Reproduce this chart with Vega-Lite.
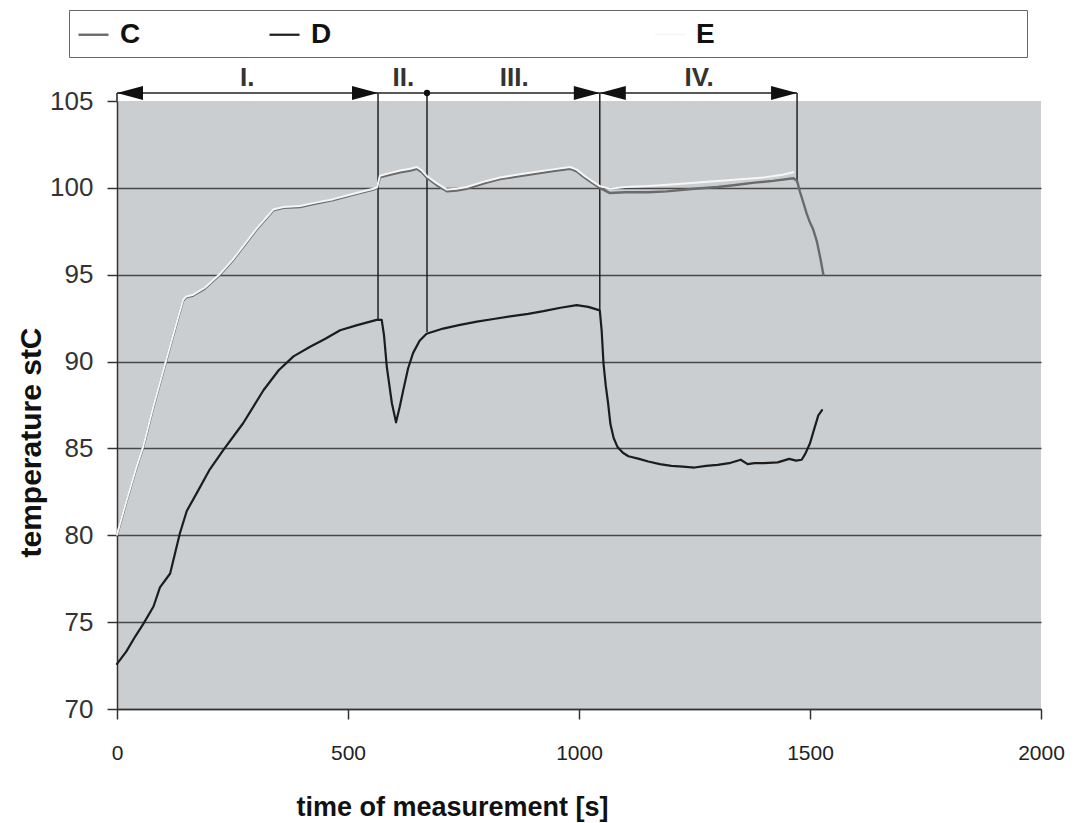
{
  "$schema": "https://vega.github.io/schema/vega-lite/v6.json",
  "width": 924,
  "height": 608,
  "autosize": {"type": "none"},
  "padding": {"left": 117, "top": 101, "right": 37, "bottom": 114},
  "background": "white",
  "datasets": {
    "series": [
      {"probe": "D", "t": 0, "temp": 72.6}, {"probe": "D", "t": 20, "temp": 73.3}, {"probe": "D", "t": 40, "temp": 74.2},
      {"probe": "D", "t": 57, "temp": 74.9}, {"probe": "D", "t": 79, "temp": 75.9}, {"probe": "D", "t": 93, "temp": 77.0},
      {"probe": "D", "t": 115, "temp": 77.8}, {"probe": "D", "t": 136, "temp": 80.1}, {"probe": "D", "t": 151, "temp": 81.4},
      {"probe": "D", "t": 172, "temp": 82.4}, {"probe": "D", "t": 201, "temp": 83.8}, {"probe": "D", "t": 230, "temp": 84.9},
      {"probe": "D", "t": 273, "temp": 86.45}, {"probe": "D", "t": 317, "temp": 88.35}, {"probe": "D", "t": 350, "temp": 89.5},
      {"probe": "D", "t": 382, "temp": 90.3}, {"probe": "D", "t": 418, "temp": 90.85}, {"probe": "D", "t": 450, "temp": 91.3},
      {"probe": "D", "t": 483, "temp": 91.8}, {"probe": "D", "t": 520, "temp": 92.1}, {"probe": "D", "t": 562, "temp": 92.4},
      {"probe": "D", "t": 573, "temp": 92.4}, {"probe": "D", "t": 578, "temp": 91.5}, {"probe": "D", "t": 584, "temp": 89.7},
      {"probe": "D", "t": 595, "temp": 87.6}, {"probe": "D", "t": 604, "temp": 86.5}, {"probe": "D", "t": 612, "temp": 87.4},
      {"probe": "D", "t": 620, "temp": 88.4}, {"probe": "D", "t": 630, "temp": 89.6}, {"probe": "D", "t": 641, "temp": 90.5},
      {"probe": "D", "t": 655, "temp": 91.2}, {"probe": "D", "t": 670, "temp": 91.6}, {"probe": "D", "t": 706, "temp": 91.9},
      {"probe": "D", "t": 740, "temp": 92.1}, {"probe": "D", "t": 779, "temp": 92.3}, {"probe": "D", "t": 815, "temp": 92.45},
      {"probe": "D", "t": 851, "temp": 92.6}, {"probe": "D", "t": 890, "temp": 92.75}, {"probe": "D", "t": 923, "temp": 92.9},
      {"probe": "D", "t": 960, "temp": 93.1}, {"probe": "D", "t": 995, "temp": 93.25}, {"probe": "D", "t": 1020, "temp": 93.15},
      {"probe": "D", "t": 1045, "temp": 92.95}, {"probe": "D", "t": 1049, "temp": 91.8}, {"probe": "D", "t": 1053, "temp": 89.9},
      {"probe": "D", "t": 1058, "temp": 88.6}, {"probe": "D", "t": 1063, "temp": 87.6}, {"probe": "D", "t": 1068, "temp": 86.4},
      {"probe": "D", "t": 1075, "temp": 85.6}, {"probe": "D", "t": 1083, "temp": 85.1}, {"probe": "D", "t": 1095, "temp": 84.75},
      {"probe": "D", "t": 1107, "temp": 84.55}, {"probe": "D", "t": 1130, "temp": 84.4}, {"probe": "D", "t": 1150, "temp": 84.25},
      {"probe": "D", "t": 1175, "temp": 84.1}, {"probe": "D", "t": 1200, "temp": 84.0}, {"probe": "D", "t": 1225, "temp": 83.95},
      {"probe": "D", "t": 1250, "temp": 83.9}, {"probe": "D", "t": 1275, "temp": 84.0}, {"probe": "D", "t": 1300, "temp": 84.05},
      {"probe": "D", "t": 1325, "temp": 84.15}, {"probe": "D", "t": 1350, "temp": 84.35}, {"probe": "D", "t": 1365, "temp": 84.1},
      {"probe": "D", "t": 1380, "temp": 84.15}, {"probe": "D", "t": 1400, "temp": 84.15}, {"probe": "D", "t": 1430, "temp": 84.2},
      {"probe": "D", "t": 1455, "temp": 84.4}, {"probe": "D", "t": 1470, "temp": 84.3}, {"probe": "D", "t": 1482, "temp": 84.35},
      {"probe": "D", "t": 1490, "temp": 84.7}, {"probe": "D", "t": 1500, "temp": 85.3}, {"probe": "D", "t": 1510, "temp": 86.2},
      {"probe": "D", "t": 1518, "temp": 86.9}, {"probe": "D", "t": 1526, "temp": 87.2},

      {"probe": "C", "t": 0, "temp": 80.0}, {"probe": "C", "t": 20, "temp": 81.9}, {"probe": "C", "t": 40, "temp": 83.7},
      {"probe": "C", "t": 57, "temp": 85.1}, {"probe": "C", "t": 79, "temp": 87.4}, {"probe": "C", "t": 107, "temp": 90.1},
      {"probe": "C", "t": 130, "temp": 92.3}, {"probe": "C", "t": 143, "temp": 93.5}, {"probe": "C", "t": 150, "temp": 93.7},
      {"probe": "C", "t": 165, "temp": 93.8}, {"probe": "C", "t": 190, "temp": 94.2}, {"probe": "C", "t": 223, "temp": 95.0},
      {"probe": "C", "t": 250, "temp": 95.8}, {"probe": "C", "t": 273, "temp": 96.6}, {"probe": "C", "t": 302, "temp": 97.6},
      {"probe": "C", "t": 325, "temp": 98.3}, {"probe": "C", "t": 338, "temp": 98.7}, {"probe": "C", "t": 360, "temp": 98.85},
      {"probe": "C", "t": 396, "temp": 98.9}, {"probe": "C", "t": 430, "temp": 99.1}, {"probe": "C", "t": 468, "temp": 99.3},
      {"probe": "C", "t": 510, "temp": 99.6}, {"probe": "C", "t": 555, "temp": 99.9}, {"probe": "C", "t": 563, "temp": 100.0},
      {"probe": "C", "t": 569, "temp": 100.6}, {"probe": "C", "t": 590, "temp": 100.75}, {"probe": "C", "t": 613, "temp": 100.9},
      {"probe": "C", "t": 635, "temp": 101.0}, {"probe": "C", "t": 649, "temp": 101.1}, {"probe": "C", "t": 660, "temp": 100.9},
      {"probe": "C", "t": 670, "temp": 100.6}, {"probe": "C", "t": 690, "temp": 100.2}, {"probe": "C", "t": 714, "temp": 99.8},
      {"probe": "C", "t": 735, "temp": 99.85}, {"probe": "C", "t": 757, "temp": 99.95}, {"probe": "C", "t": 800, "temp": 100.3},
      {"probe": "C", "t": 829, "temp": 100.5}, {"probe": "C", "t": 865, "temp": 100.65}, {"probe": "C", "t": 901, "temp": 100.8},
      {"probe": "C", "t": 940, "temp": 100.95}, {"probe": "C", "t": 981, "temp": 101.1}, {"probe": "C", "t": 995, "temp": 100.95},
      {"probe": "C", "t": 1009, "temp": 100.65}, {"probe": "C", "t": 1025, "temp": 100.35}, {"probe": "C", "t": 1045, "temp": 100.0},
      {"probe": "C", "t": 1067, "temp": 99.7}, {"probe": "C", "t": 1100, "temp": 99.75}, {"probe": "C", "t": 1150, "temp": 99.75},
      {"probe": "C", "t": 1190, "temp": 99.8}, {"probe": "C", "t": 1250, "temp": 99.95}, {"probe": "C", "t": 1300, "temp": 100.05},
      {"probe": "C", "t": 1334, "temp": 100.15}, {"probe": "C", "t": 1380, "temp": 100.3}, {"probe": "C", "t": 1420, "temp": 100.4},
      {"probe": "C", "t": 1464, "temp": 100.55}, {"probe": "C", "t": 1472, "temp": 100.4}, {"probe": "C", "t": 1478, "temp": 99.8},
      {"probe": "C", "t": 1485, "temp": 99.2}, {"probe": "C", "t": 1493, "temp": 98.5}, {"probe": "C", "t": 1500, "temp": 98.0},
      {"probe": "C", "t": 1507, "temp": 97.6}, {"probe": "C", "t": 1515, "temp": 96.9}, {"probe": "C", "t": 1522, "temp": 96.0},
      {"probe": "C", "t": 1529, "temp": 95.0},

      {"probe": "E", "t": 0, "temp": 80.05}, {"probe": "E", "t": 20, "temp": 81.95}, {"probe": "E", "t": 40, "temp": 83.75},
      {"probe": "E", "t": 57, "temp": 85.15}, {"probe": "E", "t": 79, "temp": 87.45}, {"probe": "E", "t": 107, "temp": 90.15},
      {"probe": "E", "t": 130, "temp": 92.35}, {"probe": "E", "t": 143, "temp": 93.55}, {"probe": "E", "t": 150, "temp": 93.75},
      {"probe": "E", "t": 165, "temp": 93.85}, {"probe": "E", "t": 190, "temp": 94.25}, {"probe": "E", "t": 223, "temp": 95.05},
      {"probe": "E", "t": 250, "temp": 95.85}, {"probe": "E", "t": 273, "temp": 96.65}, {"probe": "E", "t": 302, "temp": 97.65},
      {"probe": "E", "t": 325, "temp": 98.35}, {"probe": "E", "t": 338, "temp": 98.75}, {"probe": "E", "t": 360, "temp": 98.9},
      {"probe": "E", "t": 396, "temp": 98.95}, {"probe": "E", "t": 430, "temp": 99.15}, {"probe": "E", "t": 468, "temp": 99.35},
      {"probe": "E", "t": 510, "temp": 99.65}, {"probe": "E", "t": 555, "temp": 99.95}, {"probe": "E", "t": 563, "temp": 100.05},
      {"probe": "E", "t": 569, "temp": 100.7}, {"probe": "E", "t": 590, "temp": 100.85}, {"probe": "E", "t": 613, "temp": 101.0},
      {"probe": "E", "t": 635, "temp": 101.1}, {"probe": "E", "t": 649, "temp": 101.2}, {"probe": "E", "t": 660, "temp": 101.0},
      {"probe": "E", "t": 670, "temp": 100.7}, {"probe": "E", "t": 690, "temp": 100.3}, {"probe": "E", "t": 714, "temp": 99.9},
      {"probe": "E", "t": 735, "temp": 99.95}, {"probe": "E", "t": 757, "temp": 100.05}, {"probe": "E", "t": 800, "temp": 100.4},
      {"probe": "E", "t": 829, "temp": 100.6}, {"probe": "E", "t": 865, "temp": 100.75}, {"probe": "E", "t": 901, "temp": 100.9},
      {"probe": "E", "t": 940, "temp": 101.05}, {"probe": "E", "t": 981, "temp": 101.2}, {"probe": "E", "t": 995, "temp": 101.05},
      {"probe": "E", "t": 1009, "temp": 100.75}, {"probe": "E", "t": 1025, "temp": 100.45}, {"probe": "E", "t": 1045, "temp": 100.1},
      {"probe": "E", "t": 1067, "temp": 99.95}, {"probe": "E", "t": 1100, "temp": 100.05}, {"probe": "E", "t": 1150, "temp": 100.1},
      {"probe": "E", "t": 1200, "temp": 100.2}, {"probe": "E", "t": 1250, "temp": 100.3}, {"probe": "E", "t": 1300, "temp": 100.4},
      {"probe": "E", "t": 1350, "temp": 100.5}, {"probe": "E", "t": 1400, "temp": 100.6}, {"probe": "E", "t": 1440, "temp": 100.75},
      {"probe": "E", "t": 1464, "temp": 100.9}
    ],
    "spans": [
      {"phase": "I.", "t": 0, "t_end": 565, "temp": 105.46},
      {"phase": "II.", "t": 565, "t_end": 671, "temp": 105.46},
      {"phase": "III.", "t": 671, "t_end": 1045, "temp": 105.46},
      {"phase": "IV.", "t": 1045, "t_end": 1472, "temp": 105.46}
    ],
    "labels": [
      {"phase": "I.", "t": 282, "temp": 106.32},
      {"phase": "II.", "t": 620, "temp": 106.32},
      {"phase": "III.", "t": 860, "temp": 106.32},
      {"phase": "IV.", "t": 1260, "temp": 106.32}
    ],
    "bounds": [
      {"t": 0, "temp": 105.46, "temp_end": 105},
      {"t": 565, "temp": 105.46, "temp_end": 92.4},
      {"t": 671, "temp": 105.46, "temp_end": 91.7},
      {"t": 1045, "temp": 105.46, "temp_end": 93.0},
      {"t": 1472, "temp": 105.46, "temp_end": 100.3}
    ],
    "marks": [
      {"t": 0, "temp": 105.46, "dir": "left"},
      {"t": 565, "temp": 105.46, "dir": "right"},
      {"t": 671, "temp": 105.46, "dir": "dot"},
      {"t": 1045, "temp": 105.46, "dir": "right"},
      {"t": 1045, "temp": 105.46, "dir": "left"},
      {"t": 1472, "temp": 105.46, "dir": "right"}
    ]
  },
  "encoding": {
    "x": {
      "field": "t", "type": "quantitative",
      "scale": {"domain": [0, 2000], "nice": false, "zero": false},
      "axis": {
        "values": [0, 500, 1000, 1500, 2000], "format": "d",
        "title": "time of measurement  [s]",
        "titleFont": "Liberation Sans", "titleFontSize": 27, "titleFontWeight": "bold", "titleColor": "#111111",
        "titleX": 335, "titleY": 106, "titleBaseline": "alphabetic", "titleAlign": "center",
        "labelFont": "Liberation Sans", "labelFontSize": 21, "labelColor": "#222222",
        "labelPadding": 23, "labelFlush": false,
        "tickSize": 10, "tickColor": "#333333", "tickWidth": 1.5,
        "domainColor": "#333333", "domainWidth": 1.5, "grid": false
      }
    },
    "y": {
      "field": "temp", "type": "quantitative",
      "scale": {"domain": [70, 105], "nice": false, "zero": false},
      "axis": {
        "values": [70, 75, 80, 85, 90, 95, 100, 105],
        "title": "temperature  stC",
        "titleFont": "Liberation Sans", "titleFontSize": 30, "titleFontWeight": "bold", "titleColor": "#111111",
        "titleX": -86, "titleY": 341, "titleAngle": 270, "titleBaseline": "middle", "titleAlign": "center",
        "labelFont": "Liberation Sans", "labelFontSize": 26, "labelColor": "#333333", "labelPadding": 14,
        "tickSize": 10, "tickColor": "#333333", "tickWidth": 1.5,
        "domainColor": "#333333", "domainWidth": 1.5,
        "grid": true, "gridColor": "#474747", "gridWidth": 1.6,
        "gridOpacity": {"condition": {"test": "datum.value >= 105", "value": 0}, "value": 1}
      }
    }
  },
  "layer": [
    {
      "data": {"name": "spans"},
      "mark": {"type": "rule", "color": "#222222", "strokeWidth": 1.5},
      "encoding": {"x2": {"field": "t_end"}}
    },
    {
      "data": {"name": "bounds"},
      "mark": {"type": "rule", "color": "#222222", "strokeWidth": 1.5},
      "encoding": {"y2": {"field": "temp_end"}}
    },
    {
      "data": {"name": "marks"},
      "transform": [{"filter": "datum.dir !== 'dot'"}],
      "mark": {"type": "point", "filled": true, "color": "#111111", "opacity": 1, "size": 2704, "strokeWidth": 0},
      "encoding": {
        "shape": {
          "field": "dir", "type": "nominal",
          "scale": {"domain": ["left", "right"], "range": ["M 0 0 L 1 -0.27 L 1 0.27 Z", "M 0 0 L -1 -0.27 L -1 0.27 Z"]},
          "legend": null
        }
      }
    },
    {
      "data": {"name": "marks"},
      "transform": [{"filter": "datum.dir === 'dot'"}],
      "mark": {"type": "point", "filled": true, "shape": "circle", "color": "#111111", "opacity": 1, "size": 40},
      "encoding": {}
    },
    {
      "data": {"name": "labels"},
      "mark": {"type": "text", "font": "Liberation Sans", "fontSize": 26, "fontWeight": "bold", "color": "#333333", "align": "center", "baseline": "middle"},
      "encoding": {"text": {"field": "phase", "type": "nominal"}}
    },
    {
      "data": {"name": "series"},
      "mark": {"type": "line", "strokeJoin": "round", "strokeCap": "round"},
      "encoding": {
        "color": {
          "field": "probe", "type": "nominal",
          "scale": {"domain": ["C", "D", "E"], "range": ["#6a6a6a", "#1c1c1c", "#f6f6f6"]},
          "legend": {
            "title": null, "orient": "none", "legendX": -48, "legendY": -91, "direction": "horizontal",
            "symbolType": "stroke", "symbolSize": 900, "symbolStrokeWidth": 2, "symbolStrokeColor": "#b0b4b8",
            "labelFont": "Liberation Sans", "labelFontSize": 28, "labelFontWeight": "bold", "labelColor": "#111111",
            "labelOffset": 10, "labelLimit": 1000, "columnPadding": 0, "padding": 8,
            "fillColor": "white", "strokeColor": "#666666",
            "labelExpr": "pad(datum.label, datum.label === 'C' ? 17 : (datum.label === 'D' ? 42 : 40), '\u00a0') + '\u200b'"
          }
        },
        "strokeWidth": {
          "field": "probe", "type": "nominal",
          "scale": {"domain": ["C", "D", "E"], "range": [2.4, 2, 1.4]},
          "legend": null
        }
      }
    }
  ],
  "config": {
    "font": "Liberation Sans",
    "view": {"fill": "#cbced1", "stroke": null}
  }
}
